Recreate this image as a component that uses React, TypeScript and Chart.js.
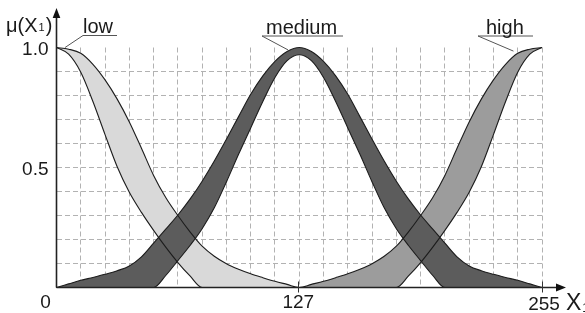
import React, { useEffect, useRef } from 'react';
import { Chart, registerables } from 'chart.js';

Chart.register(...registerables);

// sample positions along X1 (0..255)
const X_VALUES = [
  0, 6.375, 12.75, 19.125, 25.5, 31.875, 38.25, 44.625, 51, 57.375,
  63.75, 70.125, 76.5, 82.875, 89.25, 95.625, 102, 108.375, 114.75, 121.125,
  127.5, 133.875, 140.25, 146.625, 153, 159.375, 165.75, 172.125, 178.5, 184.875,
  191.25, 197.625, 204, 210.375, 216.75, 223.125, 229.5, 235.875, 242.25, 248.625,
  255,
];

const LOW_UPPER = [
  1.0, 0.993, 0.976, 0.93, 0.865, 0.785, 0.69, 0.58, 0.467, 0.375,
  0.3, 0.232, 0.172, 0.13, 0.099, 0.076, 0.057, 0.041, 0.026, 0.013,
  0, 0, 0, 0, 0, 0, 0, 0, 0, 0,
  0, 0, 0, 0, 0, 0, 0, 0, 0, 0,
  0,
];
const LOW_LOWER = [
  1.0, 0.972, 0.897, 0.775, 0.637, 0.503, 0.397, 0.313, 0.238, 0.168,
  0.104, 0.048, 0, 0, 0, 0, 0, 0, 0, 0,
  0, 0, 0, 0, 0, 0, 0, 0, 0, 0,
  0, 0, 0, 0, 0, 0, 0, 0, 0, 0,
  0,
];
const MED_UPPER = [
  0, 0.015, 0.03, 0.042, 0.055, 0.07, 0.09, 0.128, 0.185, 0.243,
  0.302, 0.368, 0.443, 0.527, 0.618, 0.712, 0.805, 0.882, 0.942, 0.983,
  1.0, 0.983, 0.942, 0.882, 0.805, 0.712, 0.618, 0.527, 0.443, 0.368,
  0.302, 0.243, 0.185, 0.128, 0.09, 0.07, 0.055, 0.042, 0.03, 0.015,
  0,
];
const MED_LOWER = [
  0, 0, 0, 0, 0, 0, 0, 0, 0, 0.05,
  0.112, 0.175, 0.245, 0.332, 0.44, 0.555, 0.665, 0.775, 0.875, 0.945,
  0.97, 0.945, 0.875, 0.775, 0.665, 0.555, 0.44, 0.332, 0.245, 0.175,
  0.112, 0.05, 0, 0, 0, 0, 0, 0, 0, 0,
  0,
];
const HIGH_UPPER = [
  0, 0, 0, 0, 0, 0, 0, 0, 0, 0,
  0, 0, 0, 0, 0, 0, 0, 0, 0, 0,
  0, 0.013, 0.026, 0.041, 0.057, 0.076, 0.099, 0.13, 0.172, 0.232,
  0.3, 0.375, 0.467, 0.58, 0.69, 0.785, 0.865, 0.93, 0.976, 0.993,
  1.0,
];
const HIGH_LOWER = [
  0, 0, 0, 0, 0, 0, 0, 0, 0, 0,
  0, 0, 0, 0, 0, 0, 0, 0, 0, 0,
  0, 0, 0, 0, 0, 0, 0, 0, 0, 0.048,
  0.104, 0.168, 0.238, 0.313, 0.397, 0.503, 0.637, 0.775, 0.897, 0.972,
  1.0,
];

const SET_LABELS = ['low', 'medium', 'high'];
const X_TICK_VALUES = [0, 127, 255];
const X_TICK_LABELS = ['0', '127', '255'];
const Y_TICK_VALUES = [0.5, 1.0];
const Y_TICK_LABELS = ['0.5', '1.0'];
const X_GRID = [
  12.75, 25.5, 38.25, 51, 63.75, 76.5, 89.25, 102, 114.75, 127.5,
  140.25, 153, 165.75, 178.5, 191.25, 204, 216.75, 229.5, 242.25, 255,
];
const Y_GRID = [0.1, 0.2, 0.3, 0.4, 0.5, 0.6, 0.7, 0.8, 0.9];

const W = 585;
const H = 313;
const FONT = '"Liberation Sans", Arial, sans-serif';

function pts(ys: number[]) {
  return X_VALUES.map((x, i) => ({ x, y: ys[i] }));
}

export default function App() {
  const ref = useRef<HTMLCanvasElement | null>(null);

  useEffect(() => {
    const canvas = ref.current;
    if (!canvas) return;
    const lineColor = '#1c1c1c';
    const mk = (label: string, ys: number[], bg: string, fill: any) => ({
      label,
      data: pts(ys),
      borderColor: lineColor,
      borderWidth: 1.1,
      backgroundColor: bg,
      fill,
      pointRadius: 0,
      pointHoverRadius: 0,
      cubicInterpolationMode: 'monotone',
      clip: false,
    });

    const decor = {
      id: 'decor',
      afterDraw(chart: any) {
        const { ctx } = chart;
        const xs = chart.scales.x;
        const ys = chart.scales.y;
        const x0 = xs.getPixelForValue(0);
        const yb = ys.getPixelForValue(0);
        const text = '#1a1a1a';
        ctx.save();
        // axes
        ctx.strokeStyle = '#222';
        ctx.fillStyle = '#111';
        ctx.lineWidth = 1.6;
        ctx.beginPath();
        ctx.moveTo(x0, yb);
        ctx.lineTo(x0, 16);
        ctx.moveTo(x0, yb);
        ctx.lineTo(558, yb);
        ctx.stroke();
        ctx.beginPath();
        ctx.moveTo(x0, 8);
        ctx.lineTo(x0 - 3.8, 18);
        ctx.lineTo(x0 + 3.8, 18);
        ctx.closePath();
        ctx.fill();
        ctx.beginPath();
        ctx.moveTo(566, yb);
        ctx.lineTo(556, yb - 4);
        ctx.lineTo(556, yb + 4);
        ctx.closePath();
        ctx.fill();
        // tick marks
        ctx.lineWidth = 1;
        ctx.strokeStyle = '#333';
        [127, 255].forEach((v) => {
          const px = Math.round(xs.getPixelForValue(v)) + 0.5;
          ctx.beginPath();
          ctx.moveTo(px, yb - 6);
          ctx.lineTo(px, yb + 5);
          ctx.stroke();
        });
        // tick labels
        ctx.fillStyle = text;
        ctx.font = `19px ${FONT}`;
        ctx.textBaseline = 'alphabetic';
        X_TICK_VALUES.forEach((v, i) => {
          let px = xs.getPixelForValue(v);
          let base = yb + 20;
          if (i === 0) px -= 11;
          if (i === 2) { px += 2; base = yb + 22; }
          ctx.textAlign = 'center';
          ctx.fillText(X_TICK_LABELS[i], px, base);
        });
        Y_TICK_VALUES.forEach((v, i) => {
          const py = ys.getPixelForValue(v);
          ctx.textAlign = 'right';
          ctx.fillText(Y_TICK_LABELS[i], x0 - 8, py + 7);
        });
        // axis titles
        ctx.textAlign = 'left';
        ctx.font = `20px ${FONT}`;
        ctx.fillText('μ(X', 6, 32);
        let w = ctx.measureText('μ(X').width;
        ctx.font = `11px ${FONT}`;
        ctx.fillText('1', 6 + w + 1, 31);
        const w1 = ctx.measureText('1').width;
        ctx.font = `20px ${FONT}`;
        ctx.fillText(')', 6 + w + w1 + 2, 32);
        ctx.font = `23px ${FONT}`;
        ctx.fillText('X', 566, 310);
        w = ctx.measureText('X').width;
        ctx.font = `12px ${FONT}`;
        ctx.fillText('1', 566 + w + 1, 312);
        // set labels with leader lines
        const anchors = [
          { ax: 4.5, ay: 1.0, lx: 83, rx: 117, ly: 35.5, tx: 83, ty: 33 },
          { ax: 121.6, ay: 0.99, lx: 262, rx: 343, ly: 36, tx: 266, ty: 34 },
          { ax: 240, ay: 0.985, lx: 478, rx: 533, ly: 36, tx: 486, ty: 34 },
        ];
        ctx.strokeStyle = '#555';
        ctx.lineWidth = 1;
        anchors.forEach((a, i) => {
          const px = xs.getPixelForValue(a.ax);
          const py = ys.getPixelForValue(a.ay);
          ctx.beginPath();
          ctx.moveTo(px, py);
          ctx.lineTo(a.lx, a.ly);
          ctx.lineTo(a.rx, a.ly);
          ctx.stroke();
          ctx.font = `20px ${FONT}`;
          ctx.fillStyle = text;
          ctx.textAlign = 'left';
          ctx.fillText(SET_LABELS[i], a.tx, a.ty);
        });
        ctx.restore();
      },
    };

    const chart = new Chart(canvas, {
      type: 'line',
      data: {
        datasets: [
          mk('medium upper', MED_UPPER, '#5c5c5c', 1),
          mk('medium lower', MED_LOWER, 'rgba(0,0,0,0)', false),
          mk('low upper', LOW_UPPER, '#d9d9d9', 3),
          mk('low lower', LOW_LOWER, 'rgba(0,0,0,0)', false),
          mk('high upper', HIGH_UPPER, '#9c9c9c', 5),
          mk('high lower', HIGH_LOWER, 'rgba(0,0,0,0)', false),
        ] as any,
      },
      options: {
        responsive: false,
        animation: false,
        events: [],
        layout: { padding: { left: 56.5, right: 43, top: 47.5, bottom: 25.5 } },
        plugins: {
          legend: { display: false },
          tooltip: { enabled: false },
          filler: { drawTime: 'beforeDatasetsDraw', propagate: false },
        } as any,
        scales: {
          x: {
            type: 'linear',
            min: 0,
            max: 255,
            afterBuildTicks: (s: any) => {
              s.ticks = X_GRID.map((v) => ({ value: v }));
            },
            ticks: { display: false },
            grid: { color: '#b2b2b2', lineWidth: 1, drawTicks: false },
            border: { display: false, dash: [5, 3] },
          },
          y: {
            type: 'linear',
            min: 0,
            max: 1,
            afterBuildTicks: (s: any) => {
              s.ticks = Y_GRID.map((v) => ({ value: v }));
            },
            ticks: { display: false },
            grid: { color: '#b2b2b2', lineWidth: 1, drawTicks: false },
            border: { display: false, dash: [5, 3] },
          },
        } as any,
      },
      plugins: [decor],
    });
    return () => chart.destroy();
  }, []);

  return (
    <div style={{ position: 'absolute', left: 0, top: 0, width: W, height: H, background: '#fff' }}>
      <canvas ref={ref} width={W} height={H} style={{ display: 'block' }} />
    </div>
  );
}
